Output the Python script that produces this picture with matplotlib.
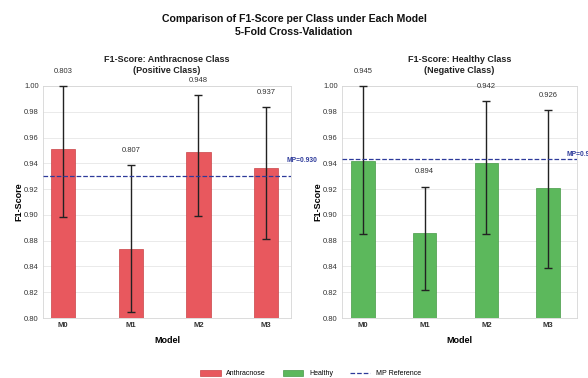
import matplotlib
matplotlib.use('Agg')
import matplotlib.pyplot as plt
from matplotlib.patches import Patch
from matplotlib.lines import Line2D
import numpy as np

plt.rcParams['font.family'] = ['Liberation Sans', 'DejaVu Sans']

models = ['M0', 'M1', 'M2', 'M3']

# Anthracnose (positive class)
anth_mean = [0.951, 0.867, 0.949, 0.936]
anth_low = [0.898, 0.805, 0.899, 0.881]
anth_high = [1.000, 0.939, 0.993, 0.984]
anth_text = ['0.803', '0.807', '0.948', '0.937']
anth_mp = 0.930

# Healthy (negative class)
heal_mean = [0.942, 0.886, 0.940, 0.921]
heal_low = [0.885, 0.822, 0.885, 0.839]
heal_high = [1.000, 0.922, 0.988, 0.981]
heal_text = ['0.945', '0.894', '0.942', '0.926']
heal_mp = 0.943

# tick labels as printed on the axis (note: 0.86 is skipped)
ytick_vals = [0.80, 0.82, 0.84, 0.88, 0.90, 0.92, 0.94, 0.96, 0.98, 1.00]
ytick_labels = ['0.80', '0.82', '0.84', '0.88', '0.90', '0.92', '0.94', '0.96', '0.98', '1.00']

# piecewise-linear scale so the printed ticks sit evenly spaced
knot_v = [0.0] + ytick_vals + [2.0]
knot_p = [-40.0] + list(range(len(ytick_vals))) + [len(ytick_vals) - 1 + 50.0]

def fwd(y):
    return np.interp(y, knot_v, knot_p)

def inv(p):
    return np.interp(p, knot_p, knot_v)


fig = plt.figure(figsize=(5.88, 3.78), dpi=100)
ax1 = fig.add_axes([0.0731, 0.1587, 0.4218, 0.6138])
ax2 = fig.add_axes([0.5816, 0.1587, 0.3997, 0.6138])

panels = [
    (ax1, anth_mean, anth_low, anth_high, anth_text, anth_mp, '#e8585e', '#c94448',
     'F1-Score: Anthracnose Class\n(Positive Class)', (-0.30, 3.37), 0.36, 9),
    (ax2, heal_mean, heal_low, heal_high, heal_text, heal_mp, '#5cb85c', '#469a46',
     'F1-Score: Healthy Class\n(Negative Class)', (-0.34, 3.47), 0.38, 1),
]

mp_color = '#2d3a9a'

for ax, mean, low, high, texts, mp, color, edge, title, xlim, width, mp_off in panels:
    x = np.arange(len(models))
    mean = np.array(mean)
    yerr = [mean - np.array(low), np.array(high) - mean]
    ax.set_yscale('function', functions=(fwd, inv))
    ax.bar(x, mean, width=width, color=color, edgecolor=edge, linewidth=0.5, zorder=2)
    ax.errorbar(x, mean, yerr=yerr, fmt='none', ecolor='#222222', elinewidth=1.0,
                capsize=3, capthick=1.0, zorder=3, clip_on=False)
    for xi, hi, t in zip(x, high, texts):
        ax.annotate(t, (xi, hi), xytext=(0, 8), textcoords='offset points',
                    ha='center', va='bottom', fontsize=5.5, color='#333333',
                    annotation_clip=False)
    ax.axhline(mp, color=mp_color, linestyle='--', linewidth=0.9, zorder=4)
    ax.annotate('MP=%.3f' % mp, (3.3, mp), xytext=(0, mp_off), textcoords='offset points',
                color=mp_color, fontsize=4.8, fontweight='bold',
                ha='left', va='bottom', annotation_clip=False)
    ax.set_ylim(0.80, 1.00)
    ax.set_xlim(*xlim)
    ax.set_yticks(ytick_vals)
    ax.set_yticklabels(ytick_labels)
    ax.yaxis.set_minor_locator(matplotlib.ticker.NullLocator())
    ax.set_xticks(x)
    ax.set_xticklabels(models, fontweight='bold')
    ax.tick_params(axis='both', labelsize=5.5, length=0, pad=3, colors='#333333')
    ax.grid(axis='y', color='#e6e6e6', linewidth=0.6, zorder=0)
    ax.set_axisbelow(True)
    for s in ax.spines.values():
        s.set_color('#d6d6d6')
        s.set_linewidth(0.6)
    ax.set_title(title, fontsize=6.5, fontweight='bold', pad=9, color='#222222',
                 linespacing=1.35)
    ax.set_xlabel('Model', fontsize=6.5, fontweight='bold', labelpad=5)
    ax.set_ylabel('F1-Score', fontsize=6.5, fontweight='bold', labelpad=0.5)

fig.suptitle('Comparison of F1-Score per Class under Each Model\n5-Fold Cross-Validation',
             fontsize=7.6, fontweight='bold', y=0.962, color='#111111', linespacing=1.3)

handles = [Patch(facecolor='#e8585e', edgecolor='#c94448', linewidth=0.5, label='Anthracnose'),
           Patch(facecolor='#5cb85c', edgecolor='#469a46', linewidth=0.5, label='Healthy'),
           Line2D([0], [0], color=mp_color, linestyle='--', linewidth=0.9, label='MP Reference')]
fig.legend(handles=handles, loc='lower center', bbox_to_anchor=(0.528, -0.015), ncol=3,
           frameon=False, fontsize=5, handlelength=3.0, handleheight=0.9, columnspacing=2.4)

plt.savefig('out.png', dpi=100)
